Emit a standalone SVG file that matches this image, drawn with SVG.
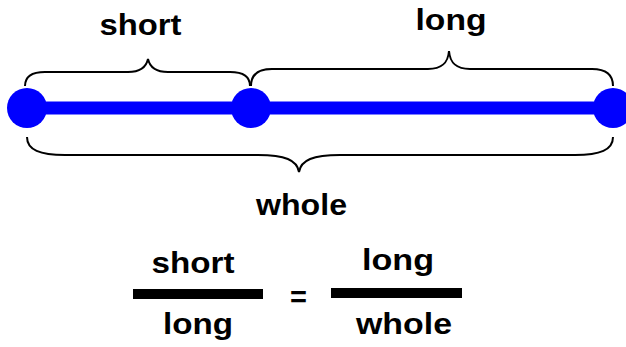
<svg xmlns="http://www.w3.org/2000/svg" width="626" height="347" viewBox="0 0 626 347">
<style>
  .lbl { font-family: "Liberation Sans", Arial, sans-serif; font-weight: bold; font-size: 29px; fill: #000; text-anchor: middle; }
  .brace { fill: none; stroke: #000; stroke-width: 2; }
  .dot { fill: #0000ff; }
  .bar { fill: #000; }
</style>
<rect width="626" height="347" fill="#fff"/>
<g id="connectors">
  <line x1="27" y1="108" x2="613" y2="108" stroke="#0000ff" stroke-width="13"/>
  <path class="brace" d="M25,86 C25,76 32,72 45,72 L128,72 C140,72 146,68 148,59 C150,68 156,72 168,72 L230,72 C243,72 250,76 250,86"/>
  <path class="brace" d="M251,86 C251,75 258,69 272,69 L428,69 C442,69 448,63 449,51 C450,63 456,69 470,69 L592,69 C606,69 613,75 613,86"/>
  <path class="brace" d="M27,137 C27,150 40,155 65,155 L258,155 C285,155 297,160 299,172 C301,160 313,155 340,155 L575,155 C600,155 613,150 613,137"/>
</g>
<g id="pointA"><circle class="dot" cx="27" cy="108" r="20"/></g>
<g id="pointB"><circle class="dot" cx="251" cy="108" r="20"/></g>
<g id="pointC"><circle class="dot" cx="613" cy="108" r="20"/></g>
<g id="label-short"><text class="lbl" x="140.5" y="35" textLength="82" lengthAdjust="spacingAndGlyphs">short</text></g>
<g id="label-long"><text class="lbl" x="451" y="29.5" textLength="71" lengthAdjust="spacingAndGlyphs">long</text></g>
<g id="label-whole"><text class="lbl" x="301.5" y="214.5" textLength="91" lengthAdjust="spacingAndGlyphs">whole</text></g>
<g id="fraction-left">
  <text class="lbl" x="193" y="273" textLength="83" lengthAdjust="spacingAndGlyphs">short</text>
  <rect class="bar" x="133" y="289" width="130" height="10"/>
  <text class="lbl" x="198" y="333.5" textLength="70" lengthAdjust="spacingAndGlyphs">long</text>
</g>
<g id="equals"><text class="lbl" x="298.5" y="307">=</text></g>
<g id="fraction-right">
  <text class="lbl" x="398" y="270" textLength="72" lengthAdjust="spacingAndGlyphs">long</text>
  <rect class="bar" x="331" y="288" width="131" height="10"/>
  <text class="lbl" x="404" y="334" textLength="96" lengthAdjust="spacingAndGlyphs">whole</text>
</g>
</svg>
